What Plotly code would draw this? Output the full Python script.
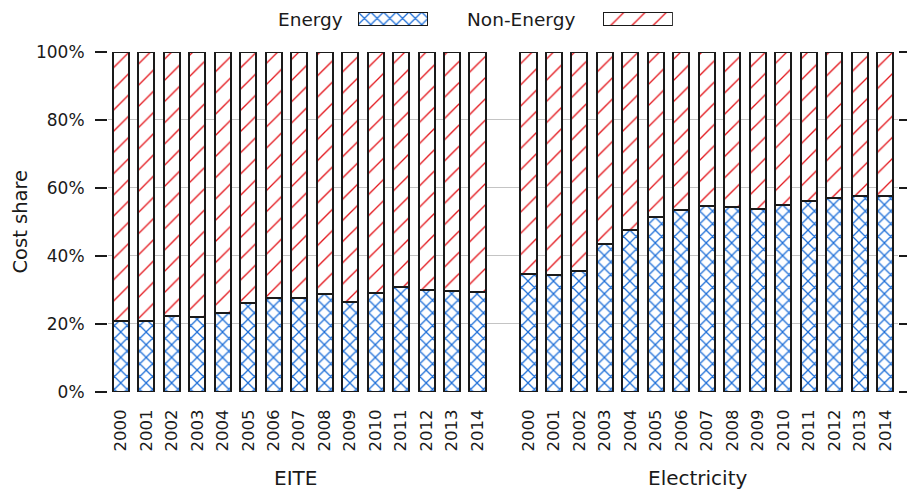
import plotly.graph_objects as go

FONT = "DejaVu Sans"
ENERGY_BLUE = "#1e6fd8"
NONENERGY_RED = "#e3161c"
EDGE = "#1a1a1a"

years = ["2000", "2001", "2002", "2003", "2004", "2005", "2006", "2007",
         "2008", "2009", "2010", "2011", "2012", "2013", "2014"]
groups = ["EITE", "Electricity"]
y_ticks = [0, 20, 40, 60, 80, 100]
y_ticktext = ["0%", "20%", "40%", "60%", "80%", "100%"]

# energy cost share (%)
eite_energy = [20.8, 21.0, 22.3, 22.1, 23.2, 26.3, 27.6, 27.7,
               28.7, 26.5, 29.2, 30.8, 30.1, 29.7, 29.5]
elec_energy = [34.7, 34.4, 35.5, 43.6, 47.5, 51.6, 53.6, 54.7,
               54.5, 53.7, 55.0, 56.3, 57.0, 57.5, 57.5]

# slot positions: one empty slot between the groups
eite_x = list(range(len(years)))
elec_x = [len(years) + 1 + i for i in range(len(years))]
x_all = eite_x + elec_x
energy_all = eite_energy + elec_energy
nonenergy_all = [100 - v for v in energy_all]

energy_pattern = dict(shape="x", fgcolor=ENERGY_BLUE, bgcolor="white",
                      fgopacity=1, size=9, solidity=0.26)
nonenergy_pattern = dict(shape="/", fgcolor=NONENERGY_RED, bgcolor="white",
                         fgopacity=1, size=15, solidity=0.09)

fig = go.Figure()
fig.add_trace(go.Bar(
    x=x_all, y=energy_all, name="Energy",
    marker=dict(color="white", line=dict(color=EDGE, width=2),
                pattern=energy_pattern),
    showlegend=False,
))
fig.add_trace(go.Bar(
    x=x_all, y=nonenergy_all, name="Non-Energy",
    marker=dict(color="white", line=dict(color=EDGE, width=2),
                pattern=nonenergy_pattern),
    showlegend=False,
))

# ── legend swatches (text left, box right, like the original) ──
fig.add_trace(go.Bar(
    x=[1], y=[0], orientation="h", width=1, xaxis="x2", yaxis="y2",
    marker=dict(color="white", line=dict(color=EDGE, width=1.5),
                pattern=energy_pattern),
    showlegend=False, hoverinfo="skip",
))
fig.add_trace(go.Bar(
    x=[1], y=[0], orientation="h", width=1, xaxis="x3", yaxis="y3",
    marker=dict(color="white", line=dict(color=EDGE, width=1.5),
                pattern=nonenergy_pattern),
    showlegend=False, hoverinfo="skip",
))

hidden = dict(visible=False, fixedrange=True)
# page body adds an 8px offset, so the figure is 8px smaller each way
fig.update_layout(
    barmode="stack",
    bargap=0.37,
    width=907, height=485,
    margin=dict(l=100, r=17, t=2, b=101, autoexpand=False),
    plot_bgcolor="white",
    paper_bgcolor="white",
    showlegend=False,
    font=dict(family=FONT, size=16, color="#1a1a1a"),
    xaxis=dict(
        range=[-0.5, x_all[-1] + 0.5],
        tickvals=x_all,
        ticktext=years + years,
        tickangle=-90,
        ticks="outside", ticklen=10, tickcolor="rgba(0,0,0,0)",
        showgrid=False, zeroline=False, showline=False,
        tickfont=dict(size=16.5),
    ),
    yaxis=dict(
        domain=[0, 0.8901],
        range=[0, 100],
        tickvals=y_ticks,
        ticktext=y_ticktext,
        ticks="outside", ticklen=12, tickwidth=2, tickcolor="#1a1a1a",
        ticklabelstandoff=7,
        mirror="ticks",
        showgrid=True, gridcolor="#c4c4c4", gridwidth=1,
        zeroline=False, showline=False,
        tickfont=dict(size=17),
    ),
    xaxis2=dict(domain=[0.3165, 0.405], range=[0, 1], anchor="y2", **hidden),
    yaxis2=dict(domain=[0.9581, 0.9948], range=[-0.5, 0.5], anchor="x2", **hidden),
    xaxis3=dict(domain=[0.6266, 0.715], range=[0, 1], anchor="y3", **hidden),
    yaxis3=dict(domain=[0.9581, 0.9948], range=[-0.5, 0.5], anchor="x3", **hidden),
)

# y axis title
fig.add_annotation(x=-0.112, y=0.445, xref="paper", yref="paper",
                   text="Cost share", textangle=-90, showarrow=False,
                   xanchor="center", yanchor="middle", borderpad=0,
                   font=dict(size=19.5))

# group labels under the year ticks
group_centers = [6.85, 22.65]
for name, cx in zip(groups, group_centers):
    fig.add_annotation(x=cx, y=-0.225, xref="x", yref="paper",
                       text=name, showarrow=False, yanchor="middle",
                       font=dict(size=20))

# legend labels
for text, right in (("Energy", 0.3), ("Non-Energy", 0.5937)):
    fig.add_annotation(x=right, y=0.9764, xref="paper", yref="paper",
                       text=text, showarrow=False, xanchor="right",
                       yanchor="middle", font=dict(size=18.5))

fig.write_html("out.html")
